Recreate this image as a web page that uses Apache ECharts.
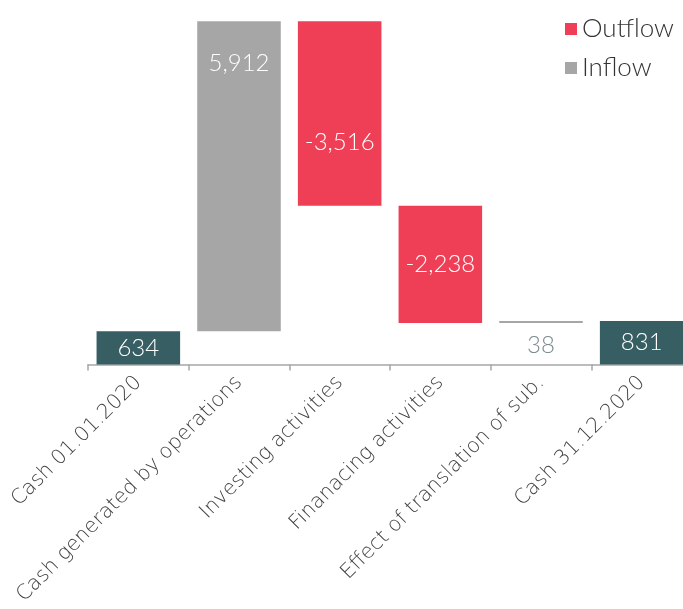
<!DOCTYPE html>
<html>
<head>
<meta charset="utf-8">
<script src="https://cdn.jsdelivr.net/npm/echarts@6/dist/echarts.min.js"></script>
<style>html,body{margin:0;padding:0;background:#fff}#c{width:683px;height:609px}</style>
</head>
<body>
<div id="c"></div>
<script>
const categories = ['Cash 01.01.2020', 'Cash generated by operations', 'Investing activities', 'Finanacing activities', 'Effect of translation of sub.', 'Cash 31.12.2020'];
const changes = [634, 5912, -3516, -2238, 38, 831];
const kinds = ['total', 'flow', 'flow', 'flow', 'flow', 'total'];
const legendNames = ['Outflow', 'Inflow'];

const FONT = 'Lato';
const AXFONT = 'DejaVu Sans';
const TEAL = '#365E63', GREY = '#A6A6A6', RED = '#EF3F56';

// build waterfall stacks
const base = [], totals = [], inflow = [], outflow = [];
let running = 0;
changes.forEach((v, i) => {
  if (kinds[i] === 'total') {
    base.push(0); totals.push(v); inflow.push('-'); outflow.push('-'); running = v;
  } else if (v >= 0) {
    base.push(running); inflow.push(v); outflow.push('-'); totals.push('-'); running += v;
  } else {
    running += v; base.push(running); outflow.push(-v); inflow.push('-'); totals.push('-');
  }
});

const fmt = v => v.toLocaleString('en-US');
const labelStyle = {
  0: { position: 'inside' },
  1: { position: 'insideTop', distance: 30 },
  2: { position: 'insideTop', distance: 109 },
  3: { position: 'inside' },
  4: { position: 'bottom', distance: 10, color: '#7D8A91' },
  5: { position: 'inside' }
};
function withLabels(arr) {
  return arr.map((v, i) => v === '-' ? '-' : {
    value: v,
    label: Object.assign({ show: true, formatter: fmt(changes[i]) }, labelStyle[i])
  });
}

const chart = echarts.init(document.getElementById('c'));
chart.setOption({
  animation: false,
  textStyle: { fontFamily: FONT },
  legend: {
    data: legendNames,
    orient: 'vertical',
    left: 560, top: 11,
    icon: 'rect', itemWidth: 12, itemHeight: 12, itemGap: 13,
    textStyle: { fontSize: 26, color: '#333', fontFamily: FONT, fontWeight: 300 }
  },
  grid: { left: 88, width: 604, top: 21.3, bottom: 244.5, containLabel: false, outerBoundsMode: 'none' },
  xAxis: {
    type: 'category', data: categories,
    axisLine: { lineStyle: { color: '#A6A6A6', width: 1.5 } },
    axisTick: { show: true, length: 6, lineStyle: { color: '#A6A6A6', width: 1.5 } },
    axisLabel: { rotate: 45, interval: 0, fontSize: 20.5, color: '#404040', margin: 15, fontFamily: AXFONT, fontWeight: 200 }
  },
  yAxis: { type: 'value', show: false, min: 0, max: 'dataMax', splitLine: { show: false } },
  series: [
    { name: 'base', type: 'bar', stack: 'w', data: base, itemStyle: { color: 'transparent' }, barCategoryGap: '17%', silent: true },
    { name: 'Cash', type: 'bar', stack: 'w', data: withLabels(totals), itemStyle: { color: TEAL },
      label: { color: '#fff', fontSize: 24, fontFamily: FONT, fontWeight: 300 } },
    { name: 'Inflow', type: 'bar', stack: 'w', data: withLabels(inflow), itemStyle: { color: GREY },
      label: { color: '#fff', fontSize: 24, fontFamily: FONT, fontWeight: 300 } },
    { name: 'Outflow', type: 'bar', stack: 'w', data: withLabels(outflow), itemStyle: { color: RED },
      label: { color: '#fff', fontSize: 24, fontFamily: FONT, fontWeight: 300 } }
  ]
});
</script>
</body>
</html>
